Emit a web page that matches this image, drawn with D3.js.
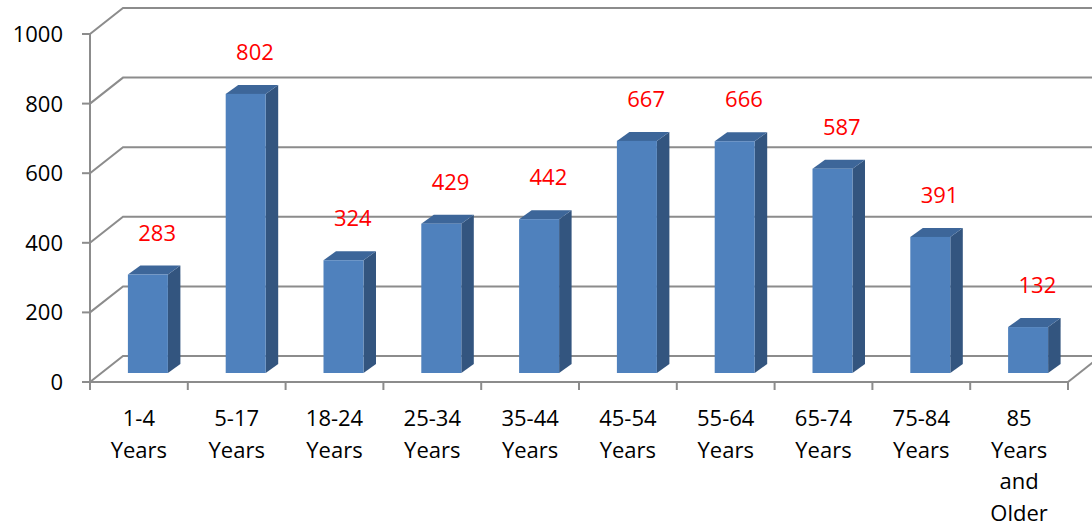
<!DOCTYPE html>
<head>
  <meta charset="utf-8">
  <style>
    body { margin: 0; background: white; }
    text { font-family: 'Open Sans', 'Noto Sans', sans-serif; }
  </style>
</head>

<body>
  <script src="https://cdn.jsdelivr.net/npm/d3@7"></script>

  <script>
    // chart data
    const categories = ['1-4 Years', '5-17 Years', '18-24 Years', '25-34 Years', '35-44 Years',
                        '45-54 Years', '55-64 Years', '65-74 Years', '75-84 Years', '85 Years and Older'];
    const values = [283, 802, 324, 429, 442, 667, 666, 587, 391, 132];
    const yTicks = [0, 200, 400, 600, 800, 1000];

    const width = 1092;
    const height = 527;

    // 3D-ish layout: front plane, back wall offset, bar plane in between
    const depth = {dx: 33, dy: -26};
    const barDepth = {dx: 12.5, dy: -9};
    const barWidth = 40;

    let svg = d3.select("body")
      .append("svg")
      .attr("width", width)
      .attr("height", height);

    const xScale = d3.scaleBand().domain(categories).range([90, 1068]).padding(0);
    const yFront = d3.scaleLinear().domain([0, 1000]).range([382, 34]);
    const yBar = d3.scaleLinear().domain([0, 1000]).range([373, 25]);

    const gridColor = "#8c8c8c";

    //-----------------------------GRID-----------------------------//
    const grid = svg.append("g").attr("id", "grid");
    grid.selectAll("polyline")
      .data(yTicks).enter().append("polyline")
      .attr("points", d => {
        const y0 = yFront(d);
        return [[90, y0], [90 + depth.dx, y0 + depth.dy], [width + 20, y0 + depth.dy]].join(" ");
      })
      .attr("fill", "none")
      .attr("stroke", gridColor)
      .attr("stroke-width", 2);

    // floor right edge
    grid.append("line")
      .attr("x1", xScale.range()[1]).attr("y1", yFront(0))
      .attr("x2", xScale.range()[1] + depth.dx).attr("y2", yFront(0) + depth.dy)
      .attr("stroke", gridColor).attr("stroke-width", 2);

    //-----------------------------AXES-----------------------------//
    const axes = svg.append("g").attr("id", "axes");
    // vertical axis line
    axes.append("line")
      .attr("x1", 90).attr("y1", yFront(1000))
      .attr("x2", 90).attr("y2", yFront(0))
      .attr("stroke", gridColor).attr("stroke-width", 2);
    // horizontal axis (floor front edge)
    axes.append("line")
      .attr("x1", 82).attr("y1", yFront(0))
      .attr("x2", xScale.range()[1]).attr("y2", yFront(0))
      .attr("stroke", gridColor).attr("stroke-width", 2);

    // y ticks + labels
    axes.selectAll(".ytick")
      .data(yTicks).enter().append("line")
      .attr("class", "ytick")
      .attr("x1", 82).attr("x2", 90)
      .attr("y1", d => yFront(d)).attr("y2", d => yFront(d))
      .attr("stroke", gridColor).attr("stroke-width", 2);
    axes.selectAll(".ylabel")
      .data(yTicks).enter().append("text")
      .attr("class", "ylabel")
      .attr("x", 63)
      .attr("y", d => yFront(d) + 8)
      .attr("text-anchor", "end")
      .attr("font-size", 22)
      .attr("fill", "black")
      .text(d => d);

    // x ticks at band edges
    const xEdges = categories.map(c => xScale(c)).concat([xScale.range()[1]]);
    axes.selectAll(".xtick")
      .data(xEdges).enter().append("line")
      .attr("class", "xtick")
      .attr("x1", d => d).attr("x2", d => d)
      .attr("y1", yFront(0)).attr("y2", yFront(0) + 8)
      .attr("stroke", gridColor).attr("stroke-width", 2);

    // category labels, one word per line
    const xLabels = axes.selectAll(".xlabel")
      .data(categories).enter().append("text")
      .attr("class", "xlabel")
      .attr("text-anchor", "middle")
      .attr("font-size", 22)
      .attr("fill", "black");
    xLabels.each(function(c) {
      const words = c.split(" ");
      const cx = xScale(c) + xScale.bandwidth() / 2;
      words.forEach((w, i) => {
        d3.select(this).append("tspan")
          .attr("x", cx)
          .attr("y", 426 + i * 31.5)
          .text(w);
      });
    });

    //-----------------------------BARS-----------------------------//
    const bars = svg.append("g").attr("id", "bars");
    const barData = categories.map((c, i) => ({cat: c, value: values[i]}));
    const barX = d => xScale(d.cat) + xScale.bandwidth() / 2 - 11;

    const barG = bars.selectAll("g")
      .data(barData).enter().append("g");

    // side face
    barG.append("polygon")
      .attr("points", d => {
        const x1 = barX(d) + barWidth, yt = yBar(d.value), yb = yBar(0);
        return [[x1, yt], [x1 + barDepth.dx, yt + barDepth.dy],
                [x1 + barDepth.dx, yb + barDepth.dy], [x1, yb]].join(" ");
      })
      .attr("fill", "#33557f");

    // top face
    barG.append("polygon")
      .attr("points", d => {
        const x0 = barX(d), yt = yBar(d.value);
        return [[x0, yt], [x0 + barWidth, yt], [x0 + barWidth + barDepth.dx, yt + barDepth.dy],
                [x0 + barDepth.dx, yt + barDepth.dy]].join(" ");
      })
      .attr("fill", "#3d6699");

    // front face
    barG.append("rect")
      .attr("x", d => barX(d))
      .attr("y", d => yBar(d.value))
      .attr("width", barWidth)
      .attr("height", d => yBar(0) - yBar(d.value))
      .attr("fill", "#4f81bd");

    // value labels
    bars.selectAll(".vlabel")
      .data(barData).enter().append("text")
      .attr("class", "vlabel")
      .attr("x", d => barX(d) + (barWidth + barDepth.dx) / 2 + 3)
      .attr("y", d => yBar(d.value) + barDepth.dy - 25)
      .attr("text-anchor", "middle")
      .attr("font-size", 22)
      .attr("fill", "#ff0000")
      .text(d => d.value);
  </script>
</body>
